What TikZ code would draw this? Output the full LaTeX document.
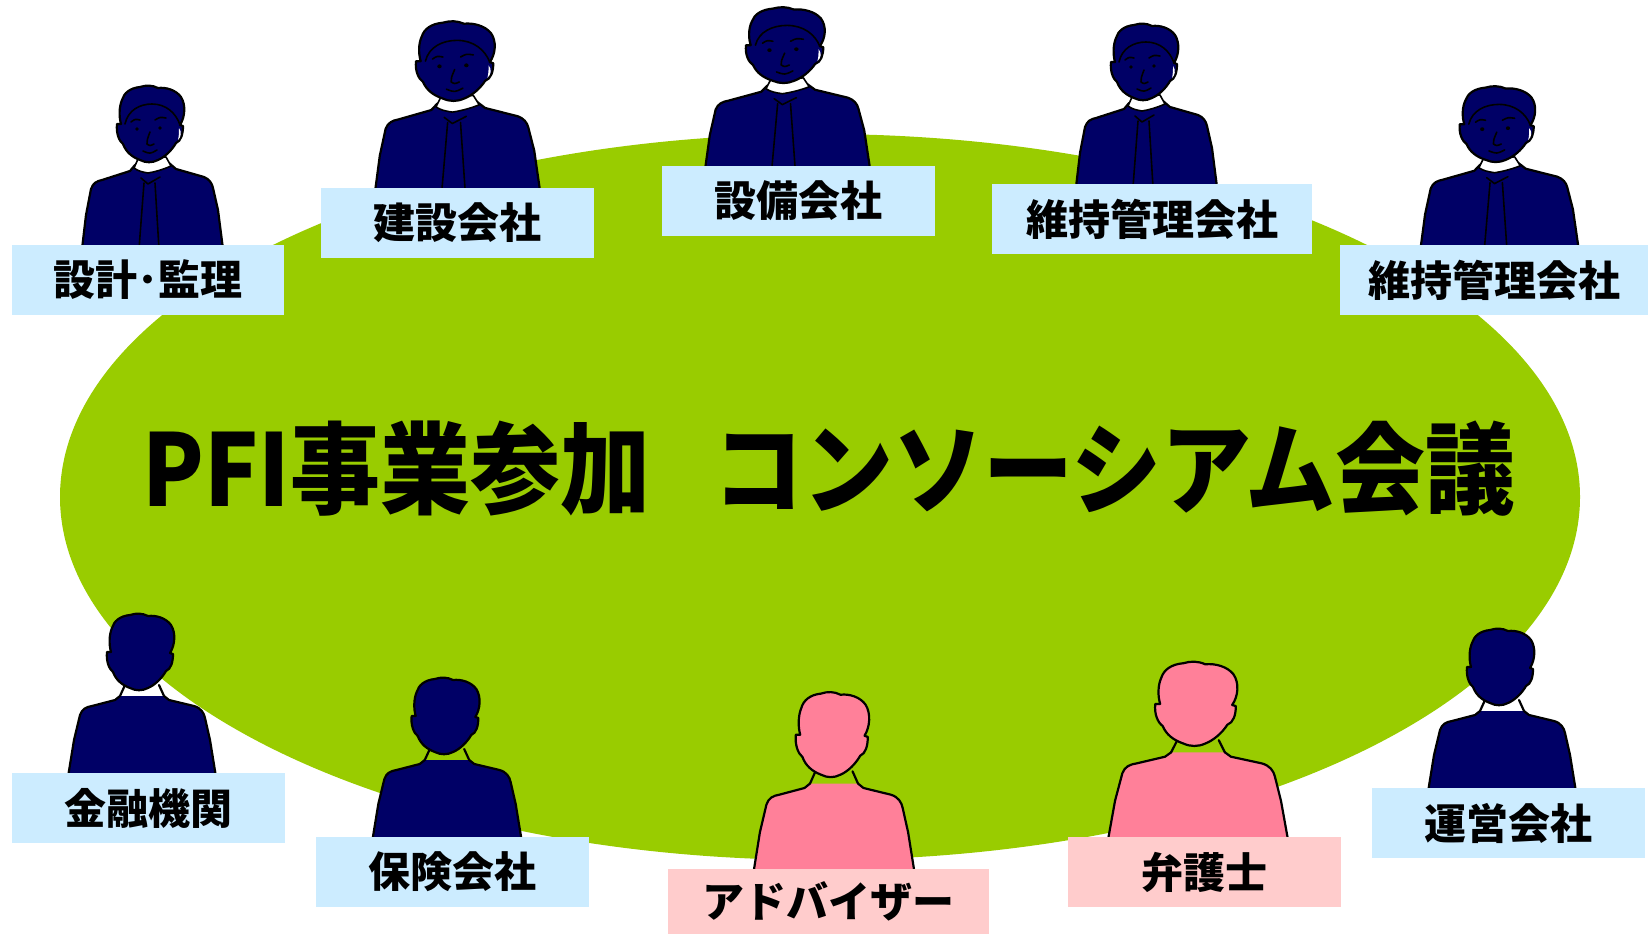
\documentclass[tikz,border=0pt]{standalone}
\usepackage{fontspec}
\usepackage{graphicx}
\newfontfamily\jp{Noto Sans CJK JP}
\definecolor{tablegreen}{HTML}{99CC00}
\definecolor{suitnavy}{HTML}{000066}
\definecolor{suitpink}{HTML}{FF8099}
\definecolor{tagblue}{HTML}{CCECFF}
\definecolor{tagpink}{HTML}{FFCCCC}

% plate text sits slightly below the plate centre
\newcommand{\platetext}[1]{\raisebox{-3pt}{#1}}

% head outline shared by all figures (origin at the bottom centre of the body)
\def\headpath{(-12,-158) .. controls (-22,-157) and (-28,-152) .. (-30,-145)
 .. controls (-33,-138) and (-33,-128) .. (-31,-121)
 -- (-35,-121)
 .. controls (-36,-112) and (-33,-104) .. (-29,-101)
 .. controls (-26,-93) and (-20,-88) .. (-12,-85)
 .. controls (-6,-82) and (0,-82) .. (6,-85)
 .. controls (13,-88) and (20,-95) .. (24,-102)
 .. controls (29,-104) and (31,-111) .. (31,-119)
 -- (28,-120)
 .. controls (33,-128) and (34,-140) .. (29,-148)
 .. controls (24,-155) and (14,-158) .. (6,-157)
 .. controls (0,-160) and (-6,-160) .. (-12,-158) -- cycle}

\tikzset{
  outline/.style={draw=black, line width=2.2pt, line join=round, line cap=round},
  facial/.style={draw=black, line width=1.6pt, line cap=round, line join=round},
  tag/.style={rectangle, inner sep=0pt, minimum height=70pt,
    font=\jp\bfseries\fontsize{42}{42}\selectfont},
  % seated person seen from the front, with face and tie
  pics/frontperson/.style={code={
    \path[fill=suitnavy, outline] (-70,4) -- (-66,-30) -- (-61,-56)
      .. controls (-59,-62) and (-55,-64) .. (-50,-65) -- (-22,-74) -- (-17,-80)
      -- (17,-82) -- (24,-76) -- (52,-68)
      .. controls (57,-66) and (60,-62) .. (61,-57) -- (66,-35) -- (71,4) -- cycle;
    \path[fill=white, outline, line width=1.6pt] (-18,-77) -- (-14,-86) -- (14,-88)
      -- (19,-79) .. controls (10,-75) and (2,-73) .. (-4,-72)
      .. controls (-10,-73) and (-14,-74) .. (-18,-77) -- cycle;
    \path[fill=suitnavy, outline] \headpath;
    \path[fill=white] (27,-117) .. controls (30,-113) and (29,-108) .. (26,-105)
      .. controls (27,-109) and (27,-113) .. (27,-117) -- cycle;
    \draw[facial] (-27,-121) .. controls (-24,-135) and (-12,-141) .. (0,-141)
      .. controls (14,-141) and (24,-132) .. (28,-120);
    \fill (-15,-116) circle (1.9);
    \fill (8,-117) circle (1.9);
    \draw[facial] (-21,-123) .. controls (-17,-126) .. (-12,-125);
    \draw[facial] (3,-125) .. controls (8,-128) .. (14,-127);
    \draw[facial] (-2,-113) .. controls (-5,-105) .. (-5,-101) .. controls (-2,-99) .. (2,-101);
    \draw[facial] (-9,-94) .. controls (-2,-91) .. (5,-95);
    \draw[facial] (-11,-67) -- (-4,-61) -- (8,-68);
    \draw[facial] (-8,-62) -- (-13,4);
    \draw[facial] (3,-62) -- (7,4);
  }},
  % seated person seen from behind; the argument is the fill colour
  pics/backperson/.style={code={
    \path[fill=#1, outline] (22,-77) -- (27,-73) -- (52,-67)
      .. controls (59,-65) and (62,-60) .. (63,-55) -- (68,-33) -- (74,4)
      -- (-74,4) -- (-68,-33) -- (-62,-58)
      .. controls (-60,-64) and (-56,-66) .. (-50,-67) -- (-27,-73) -- (-22,-77);
    \draw[outline] (-22,-77) -- (-17,-88);
    \draw[outline] (22,-77) -- (17,-88);
    \path[fill=#1, outline] \headpath;
  }}
}

\begin{document}
\begin{tikzpicture}[x=1pt, y=-1pt]
  \useasboundingbox (0,0) rectangle (1648,934);

  % conference table
  \fill[tablegreen] (820,497) ellipse [x radius=760, y radius=363];

  % members facing the viewer
  \pic[xscale=1.00, yscale=1.00] at (152,245)  {frontperson};
  \pic[xscale=1.17, yscale=1.04] at (457,187)  {frontperson};
  \pic[xscale=1.17, yscale=0.99] at (787,165)  {frontperson};
  \pic[xscale=1.00, yscale=1.00] at (1146,183) {frontperson};
  \pic[xscale=1.12, yscale=0.99] at (1499,244) {frontperson};

  % members seen from behind
  \pic[xscale=1.00, yscale=1.00] at (142,773)  {backperson=suitnavy};
  \pic[xscale=1.01, yscale=1.00] at (447,837)  {backperson=suitnavy};
  \pic[xscale=1.09, yscale=1.11] at (834,869)  {backperson=suitpink};
  \pic[xscale=1.22, yscale=1.10] at (1198,837) {backperson=suitpink};
  \pic[xscale=1.00, yscale=1.00] at (1502,788) {backperson=suitnavy};

  % name plates
  \node[tag, fill=tagblue, minimum width=272pt] (design)   at (148,280)  {\platetext{設計･監理}};
  \node[tag, fill=tagblue, minimum width=273pt] (build)    at (457,223)  {\platetext{建設会社}};
  \node[tag, fill=tagblue, minimum width=273pt] (equip)    at (798,201)  {\platetext{設備会社}};
  \node[tag, fill=tagblue, minimum width=320pt] (maintA)   at (1152,219) {\platetext{維持管理会社}};
  \node[tag, fill=tagblue, minimum width=308pt] (maintB)   at (1494,280) {\platetext{維持管理会社}};
  \node[tag, fill=tagblue, minimum width=273pt] (finance)  at (148,808)  {\platetext{金融機関}};
  \node[tag, fill=tagblue, minimum width=273pt] (insure)   at (452,872)  {\platetext{保険会社}};
  \node[tag, fill=tagpink, minimum width=321pt, minimum height=65pt] (advisor) at (828,901.5) {\platetext{アドバイザー}};
  \node[tag, fill=tagpink, minimum width=273pt] (lawyer)   at (1204,872) {\platetext{弁護士}};
  \node[tag, fill=tagblue, minimum width=273pt] (operate)  at (1508,823) {\platetext{運営会社}};

  % meeting title
  \node (title) at (829,469)
    {\scalebox{0.90}[1.0]{\jp\bfseries\fontsize{100}{100}\selectfont PFI事業参加\hspace{0.7em}コンソーシアム会議}};
\end{tikzpicture}
\end{document}
